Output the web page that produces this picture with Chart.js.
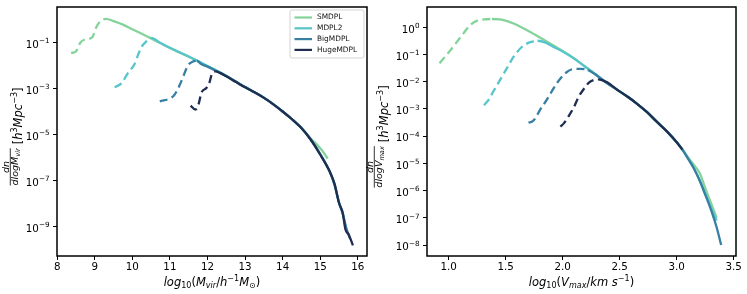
<!DOCTYPE html>
<html><head><meta charset="utf-8">
<script src="https://cdn.jsdelivr.net/npm/chart.js@4.4.1/dist/chart.umd.min.js"></script>
<style>
html,body{margin:0;padding:0;background:#fff;}
#wrap{position:relative;width:747px;height:294px;overflow:hidden;background:#fff;}
#c1{position:absolute;left:0;top:0;}
#c2{position:absolute;left:360px;top:0;}
</style></head><body>
<div id="wrap"><canvas id="c1" width="375" height="294"></canvas><canvas id="c2" width="387" height="294"></canvas></div>
<script>
// ---------------- data ----------------
const simNames = ['SMDPL', 'MDPL2', 'BigMDPL', 'HugeMDPL'];

// Left panel: dn/dlogMvir vs log10(Mvir)
const smdplM  = [8.37, 8.50, 8.62, 8.72, 8.93, 9.03, 9.12, 9.30, 9.50, 9.75, 10.00, 10.25, 10.50, 10.75, 11.00, 11.25, 11.50, 11.75, 12.00, 12.25, 12.50, 12.75, 13.00, 13.25, 13.50, 13.75, 14.00, 14.25, 14.50, 14.75, 14.90, 15.05, 15.20];
const smdplMn = [3.5e-2, 4.1e-2, 1.0e-1, 1.32e-1, 1.66e-1, 4.3e-1, 7.4e-1, 1.07, 8.5e-1, 6.0e-1, 3.8e-1, 2.4e-1, 1.51e-1, 9.3e-2, 5.75e-2, 3.72e-2, 2.4e-2, 1.51e-2, 9.3e-3, 5.75e-3, 3.47e-3, 2.0e-3, 1.15e-3, 6.9e-4, 4.0e-4, 2.1e-4, 1.0e-4, 4.6e-5, 1.9e-5, 6.6e-6, 3.8e-6, 2.0e-6, 8.9e-7];
const mdpl2M  = [9.53, 9.72, 9.88, 10.06, 10.17, 10.24, 10.36, 10.50, 10.75, 11.00, 11.25, 11.50, 11.75, 12.00, 12.25, 12.50, 12.75, 13.00, 13.25, 13.50, 13.75, 14.00, 14.25, 14.50, 14.75, 15.00, 15.25, 15.38, 15.50, 15.60, 15.67];
const mdpl2Mn = [1.12e-3, 1.74e-3, 4.7e-3, 1.17e-2, 3.47e-2, 6.3e-2, 1.07e-1, 1.58e-1, 9.5e-2, 5.9e-2, 3.8e-2, 2.45e-2, 1.55e-2, 9.5e-3, 5.9e-3, 3.55e-3, 2.0e-3, 1.15e-3, 6.9e-4, 4.0e-4, 2.1e-4, 1.0e-4, 4.6e-5, 1.9e-5, 6.0e-6, 1.4e-6, 2.5e-7, 6.3e-8, 1.1e-8, 4.0e-9, 1.0e-9];
const bigM    = [10.73, 11.04, 11.13, 11.26, 11.36, 11.48, 11.60, 11.72, 11.82, 12.00, 12.25, 12.50, 12.75, 13.00, 13.25, 13.50, 13.75, 14.00, 14.25, 14.50, 14.75, 15.00, 15.25, 15.38, 15.50, 15.60, 15.70, 15.80];
const bigMn   = [2.75e-4, 4.0e-4, 5.6e-4, 1.41e-3, 3.55e-3, 1.0e-2, 1.45e-2, 1.58e-2, 1.2e-2, 8.9e-3, 5.6e-3, 3.47e-3, 2.0e-3, 1.15e-3, 6.9e-4, 4.0e-4, 2.1e-4, 1.0e-4, 4.6e-5, 1.9e-5, 5.9e-6, 1.35e-6, 2.5e-7, 7.1e-8, 1.1e-8, 3.5e-9, 7.9e-10, 2.8e-10];
const hugeM   = [11.55, 11.68, 11.76, 11.84, 11.97, 12.06, 12.11, 12.22, 12.33, 12.50, 12.75, 13.00, 13.25, 13.50, 13.75, 14.00, 14.25, 14.50, 14.75, 15.00, 15.25, 15.38, 15.50, 15.60, 15.67, 15.76, 15.87];
const hugeMn  = [1.78e-4, 1.2e-4, 2.0e-4, 6.6e-4, 1.05e-3, 2.0e-3, 4.0e-3, 5.5e-3, 4.8e-3, 3.4e-3, 1.95e-3, 1.12e-3, 6.8e-4, 3.9e-4, 2.04e-4, 1.0e-4, 4.6e-5, 1.9e-5, 5.9e-6, 1.35e-6, 2.5e-7, 7.1e-8, 1.05e-8, 3.8e-9, 7.6e-10, 4.4e-10, 1.5e-10];
// completeness limits (dashed below)
const massCompleteFrom = [9.30, 10.50, 11.72, 12.22];

// Right panel: dn/dlogVmax vs log10(Vmax)
const smdplV  = [0.92, 0.98, 1.05, 1.13, 1.19, 1.25, 1.31, 1.38, 1.45, 1.52, 1.57, 1.65, 1.72, 1.80, 1.90, 2.00, 2.10, 2.20, 2.30, 2.39, 2.48, 2.57, 2.65, 2.74, 2.82, 2.92, 3.00, 3.05, 3.10, 3.15, 3.20, 3.25, 3.30, 3.35];
const smdplVn = [4.8e-2, 9.5e-2, 2.2e-1, 6.0e-1, 1.22, 1.76, 1.95, 2.02, 1.95, 1.66, 1.38, 9.5e-1, 6.6e-1, 4.2e-1, 2.4e-1, 1.35e-1, 7.2e-2, 3.55e-2, 1.74e-2, 9.1e-3, 5.0e-3, 2.8e-3, 1.58e-3, 7.6e-4, 3.55e-4, 1.41e-4, 6.0e-5, 3.3e-5, 1.66e-5, 8.9e-6, 4.5e-6, 1.26e-6, 3.5e-7, 1.0e-7];
const mdpl2V  = [1.31, 1.35, 1.39, 1.45, 1.51, 1.57, 1.63, 1.69, 1.74, 1.78, 1.85, 1.92, 2.00, 2.10, 2.20, 2.30, 2.39, 2.48, 2.57, 2.65, 2.74, 2.82, 2.92, 3.00, 3.05, 3.10, 3.15, 3.20, 3.25, 3.30, 3.35];
const mdpl2Vn = [1.38e-3, 2.14e-3, 4.27e-3, 1.15e-2, 3.1e-2, 8.3e-2, 1.7e-1, 2.57e-1, 3.0e-1, 3.2e-1, 2.75e-1, 1.91e-1, 1.29e-1, 7.1e-2, 3.47e-2, 1.7e-2, 8.9e-3, 5.0e-3, 2.8e-3, 1.58e-3, 7.6e-4, 3.55e-4, 1.41e-4, 6.0e-5, 3.2e-5, 1.48e-5, 6.6e-6, 2.5e-6, 7.9e-7, 2.4e-7, 7.9e-8];
const bigV    = [1.70, 1.73, 1.76, 1.80, 1.86, 1.92, 1.98, 2.04, 2.10, 2.16, 2.22, 2.30, 2.39, 2.48, 2.57, 2.65, 2.74, 2.82, 2.92, 3.00, 3.05, 3.10, 3.15, 3.20, 3.25, 3.30, 3.35, 3.39];
const bigVn   = [3.16e-4, 3.4e-4, 4.5e-4, 9.1e-4, 2.14e-3, 5.75e-3, 1.32e-2, 2.34e-2, 2.95e-2, 2.95e-2, 2.69e-2, 1.7e-2, 8.7e-3, 5.0e-3, 2.8e-3, 1.58e-3, 7.6e-4, 3.55e-4, 1.41e-4, 6.0e-5, 3.2e-5, 1.48e-5, 6.6e-6, 2.4e-6, 7.1e-7, 2.0e-7, 4.5e-8, 1.0e-8];
const hugeV   = [1.98, 2.01, 2.05, 2.10, 2.14, 2.19, 2.23, 2.27, 2.31, 2.39, 2.48, 2.57, 2.65, 2.74, 2.82, 2.92, 3.00, 3.05];
const hugeVn  = [2.24e-4, 2.95e-4, 5.25e-4, 1.2e-3, 2.8e-3, 5.75e-3, 9.3e-3, 1.15e-2, 1.23e-2, 9.5e-3, 5.0e-3, 2.8e-3, 1.58e-3, 7.6e-4, 3.55e-4, 1.41e-4, 6.0e-5, 3.2e-5];
const vmaxCompleteFrom = [1.38, 1.78, 2.22, 2.31];

// tick values
const massTicks = [8, 9, 10, 11, 12, 13, 14, 15, 16];
const massDensityTicks = [1e-1, 1e-3, 1e-5, 1e-7, 1e-9];
const vmaxTicks = [1.0, 1.5, 2.0, 2.5, 3.0, 3.5];
const vmaxDensityTicks = [1, 1e-1, 1e-2, 1e-3, 1e-4, 1e-5, 1e-6, 1e-7, 1e-8];

// ---------------- styles ----------------
const simColors = ['#84d39a', '#57c5cb', '#377fa3', '#1f2d50'];
const FONT = '"DejaVu Sans"';
const TICK_SIZE = 10.3;
function fnt(size, it){ return (it ? 'italic ' : '') + size + 'px ' + FONT; }
function richWidth(ctx, parts, size){
  let w = 0;
  for (const p of parts){ ctx.font = fnt(p[1] ? size*0.7 : size, p[2]); w += ctx.measureText(p[0]).width; }
  return w;
}
function richDraw(ctx, parts, x, y, size){
  let cx = x;
  ctx.textAlign = 'left'; ctx.textBaseline = 'alphabetic';
  for (const p of parts){
    const s = p[1] ? size*0.7 : size;
    ctx.font = fnt(s, p[2]);
    const dy = p[1] === 1 ? -0.42*size : (p[1] === -1 ? 0.22*size : 0);
    ctx.fillText(p[0], cx, y + dy);
    cx += ctx.measureText(p[0]).width;
  }
}

const decor = {
  id: 'decor',
  afterDraw(chart, args, o){
    const ctx = chart.ctx, a = chart.chartArea;
    ctx.save();
    ctx.strokeStyle = '#000'; ctx.lineWidth = 1.5;
    ctx.strokeRect(a.left, a.top, a.right - a.left, a.bottom - a.top);
    ctx.fillStyle = '#000';
    // y tick labels 10^n at the library's tick positions
    const ys = chart.scales.y;
    ys.ticks.forEach((t, i) => {
      const py = ys.getPixelForTick(i);
      const e = String(Math.round(Math.log10(t.value))).replace('-', '\u2212');
      const parts = [['10',0,0],[e,1,0]];
      const w = richWidth(ctx, parts, TICK_SIZE);
      richDraw(ctx, parts, a.left - 7.5 - w, py + 5.2, TICK_SIZE);
    });
    const xs = 11.5;
    const w = richWidth(ctx, o.xTitle, xs);
    richDraw(ctx, o.xTitle, (a.left + a.right)/2 - w/2, o.xTitleY, xs);
    // y title (rotated)
    ctx.save();
    ctx.translate(o.yLineX, (a.top + a.bottom)/2 + o.yShift);
    ctx.rotate(-Math.PI/2);
    const fsz = 9.5, bsz = 11.5;
    const wn = richWidth(ctx, o.yNum, fsz), wd = richWidth(ctx, o.yDen, fsz), wb = richWidth(ctx, o.yBr, bsz);
    const wf = Math.max(wn, wd), gap = 4, T = wf + gap + wb, u0 = -T/2;
    richDraw(ctx, o.yNum, u0 + (wf - wn)/2, -1.8, fsz);
    richDraw(ctx, o.yDen, u0 + (wf - wd)/2, 7.5, fsz);
    ctx.strokeStyle = '#000'; ctx.lineWidth = 0.8;
    ctx.beginPath(); ctx.moveTo(u0, 0); ctx.lineTo(u0 + wf, 0); ctx.stroke();
    richDraw(ctx, o.yBr, u0 + wf + gap, o.yBrOff, bsz);
    ctx.restore();
    if (o.legend){
      const L = o.legend;
      ctx.fillStyle = 'rgba(255,255,255,0.85)'; ctx.strokeStyle = '#d4d4d4'; ctx.lineWidth = 1;
      ctx.beginPath();
      if (ctx.roundRect) ctx.roundRect(L.x, L.y, L.w, L.h, 2); else ctx.rect(L.x, L.y, L.w, L.h);
      ctx.fill(); ctx.stroke();
      chart.data.datasets.forEach((ds, i) => {
        const yy = L.y + L.pad + L.rowH*(i + 0.5);
        ctx.strokeStyle = ds.borderColor; ctx.lineWidth = 2.2; ctx.setLineDash([]);
        ctx.beginPath(); ctx.moveTo(L.x + 4.5, yy); ctx.lineTo(L.x + 22, yy); ctx.stroke();
        ctx.fillStyle = '#111'; ctx.font = '7.4px ' + FONT; ctx.textBaseline = 'middle'; ctx.textAlign = 'left';
        ctx.fillText(ds.label, L.x + 27, yy);
      });
    }
    ctx.restore();
  }
};

function makeChart(id, cfg){
  return new Chart(document.getElementById(id), {
    type: 'line',
    data: {
      datasets: cfg.series.map((s, i) => ({
        label: simNames[i],
        data: s[0].map((x, j) => ({x: x, y: s[1][j]})),
        borderColor: simColors[i], backgroundColor: simColors[i],
        borderWidth: 2.3, pointRadius: 0, fill: false, tension: 0,
        cubicInterpolationMode: 'monotone',
        borderCapStyle: 'butt', borderJoinStyle: 'round',
        order: 4 - i,
        segment: { borderDash: c => (c.p1.parsed.x <= cfg.cuts[i] + 1e-9 ? [8, 4.5] : undefined) }
      }))
    },
    options: {
      responsive: false, animation: false, devicePixelRatio: 1,
      layout: { padding: { left: 0, right: cfg.padR, top: 7, bottom: 0 } },
      plugins: { legend: { display: false }, tooltip: { enabled: false }, decor: cfg.decor },
      scales: {
        x: {
          type: 'linear', min: cfg.xMin, max: cfg.xMax,
          afterBuildTicks: sc => { sc.ticks = cfg.xTicks.map(v => ({value: v})); },
          afterFit: sc => { sc.height = 38; },
          grid: { display: true, drawOnChartArea: false, drawTicks: true, tickLength: 4, tickColor: '#000', tickWidth: 1 },
          border: { display: false },
          ticks: { color: '#000', font: { family: 'DejaVu Sans', size: TICK_SIZE }, padding: 1, maxRotation: 0, autoSkip: false,
                   callback: v => cfg.xFmt(v) }
        },
        y: {
          type: 'logarithmic', min: cfg.yMin, max: cfg.yMax,
          afterBuildTicks: sc => { sc.ticks = cfg.yTicks.map(v => ({value: v})); },
          afterFit: sc => { sc.width = cfg.yW; },
          grid: { display: true, drawOnChartArea: false, drawTicks: true, tickLength: 4, tickColor: '#000', tickWidth: 1 },
          border: { display: false },
          ticks: { display: false, autoSkip: false }
        }
      }
    },
    plugins: [decor]
  });
}

makeChart('c1', {
  series: [[smdplM, smdplMn], [mdpl2M, mdpl2Mn], [bigM, bigMn], [hugeM, hugeMn]],
  cuts: massCompleteFrom,
  xMin: 7.995, xMax: 16.245, yMin: 5.2e-11, yMax: 3.5,
  xTicks: massTicks, yTicks: massDensityTicks, xFmt: v => String(v),
  padR: 8, yW: 57,
  decor: {
    xTitle: [['log',0,1],['10',-1,0],['(',0,0],['M',0,1],['vir',-1,1],['/',0,0],['h',0,1],['\u22121',1,0],['M',0,1],['\u2299',-1,0],[')',0,0]],
    xTitleY: 285.5,
    yLineX: 10.3, yShift: 5, yBrOff: 11.7,
    yNum: [['dn',0,1]],
    yDen: [['dlogM',0,1],['vir',-1,1]],
    yBr: [['[',0,0],['h',0,1],['3',1,0],['Mpc',0,1],['\u22123',1,0],[']',0,0]],
    legend: { x: 290, y: 10, w: 74, h: 48, pad: 2.1, rowH: 10.8 }
  }
});

makeChart('c2', {
  series: [[smdplV, smdplVn], [mdpl2V, mdpl2Vn], [bigV, bigVn], [hugeV, hugeVn]],
  cuts: vmaxCompleteFrom,
  xMin: 0.81, xMax: 3.52, yMin: 3.96e-9, yMax: 5.57,
  xTicks: vmaxTicks, yTicks: vmaxDensityTicks, xFmt: v => v.toFixed(1),
  padR: 11, yW: 67,
  decor: {
    xTitle: [['log',0,1],['10',-1,0],['(',0,0],['V',0,1],['max',-1,1],['/',0,0],['km',0,1],[' ',0,0],['s',0,1],['\u22121',1,0],[')',0,0]],
    xTitleY: 285.5,
    yLineX: 14.3, yShift: 5, yBrOff: 14,
    yNum: [['dn',0,1]],
    yDen: [['dlogV',0,1],['max',-1,1]],
    yBr: [['[',0,0],['h',0,1],['3',1,0],['Mpc',0,1],['\u22123',1,0],[']',0,0]],
    legend: null
  }
});
</script>
</body></html>
